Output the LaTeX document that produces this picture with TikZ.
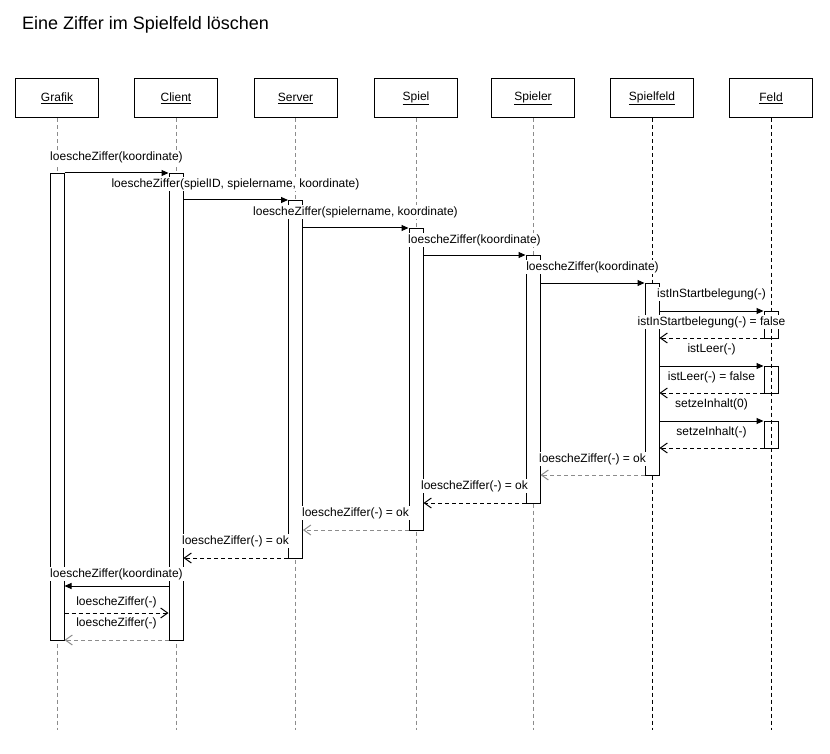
\documentclass[tikz,border=0pt]{standalone}
\usepackage{fontspec}
\setmainfont{Liberation Sans}
\usetikzlibrary{arrows.meta}
\definecolor{lgray}{RGB}{140,140,140}
\tikzset{
  head/.style={draw, line width=1pt, minimum width=83pt, minimum height=39pt, inner sep=0pt, font=\fontsize{12}{14}\selectfont},
  life/.style={dash pattern=on 4pt off 3pt, line width=1pt, draw=lgray},
  lifeb/.style={dash pattern=on 4pt off 3pt, line width=1pt, draw=black},
  act/.style={draw, fill=white, line width=1pt, minimum width=14pt, inner sep=0pt, anchor=north},
  call/.style={line width=1pt, -{Triangle[length=7pt,width=6pt]}},
  ret/.style={line width=1pt, dash pattern=on 4pt off 3pt, -{Straight Barb[length=7pt,width=10pt]}},
  lbl/.style={fill=white, inner sep=1pt, font=\fontsize{12}{14}\selectfont}
}
\begin{document}
\begin{tikzpicture}[x=1pt,y=-1pt]
\useasboundingbox (0,0) rectangle (830,754);
\node[anchor=west, inner sep=0pt, font=\fontsize{18}{22}\selectfont] (title) at (22,25) {Eine Ziffer im Spielfeld löschen};

% headers
\node[head] (hG) at (57,98.5) {\underline{Grafik}};
\node[head] (hC) at (176,98.5) {\underline{Client}};
\node[head] (hS) at (295.5,98.5) {\underline{Server}};
\node[head] (hP) at (416,98.5) {\underline{Spiel}};
\node[head] (hR) at (533,98.5) {\underline{Spieler}};
\node[head] (hF) at (652,98.5) {\underline{Spielfeld}};
\node[head] (hD) at (771,98.5) {\underline{Feld}};

% lifeline ends
\coordinate (eG) at (57,730);
\coordinate (eC) at (176,730);
\coordinate (eS) at (295.5,730);
\coordinate (eP) at (416,730);
\coordinate (eR) at (533,730);
\coordinate (eF) at (652,730);
\coordinate (eD) at (771,730);
\draw[life] (hG.south) -- (eG);
\draw[life] (hC.south) -- (eC);
\draw[life] (hS.south) -- (eS);
\draw[life] (hP.south) -- (eP);
\draw[life] (hR.south) -- (eR);
\draw[lifeb] (hF.south) -- (eF);
\draw[lifeb] (hD.south) -- (eD);

% activations
\node[act, minimum height=467pt] (aG) at (57,173) {};
\node[act, minimum height=467pt] (aC) at (176,173) {};
\node[act, minimum height=358pt] (aS) at (295.5,200) {};
\node[act, minimum height=302pt] (aP) at (416,228) {};
\node[act, minimum height=248pt] (aR) at (533,255) {};
\node[act, minimum height=192pt] (aF) at (652,283) {};
\node[act, fill=none, minimum height=27pt] (aD1) at (771,311) {};
\node[act, fill=none, minimum height=27pt] (aD2) at (771,366) {};
\node[act, fill=none, minimum height=27pt] (aD3) at (771,421) {};

% y levels
\foreach \n/\y in {1/173,2/200,3/228,4/255,5/283,6/311,7/338,8/366,9/393,10/421,11/448,12/475,13/503,14/530,15/558,16/586,17/613,18/640}
  \coordinate (y\n) at (0,\y);

% messages
\draw[call] (aG.east |- y1) -- (aC.west |- y1);
\draw[call] (aC.east |- y2) -- (aS.west |- y2);
\draw[call] (aS.east |- y3) -- (aP.west |- y3);
\draw[call] (aP.east |- y4) -- (aR.west |- y4);
\draw[call] (aR.east |- y5) -- (aF.west |- y5);
\draw[call] (aF.east |- y6) -- (aD1.west |- y6);
\draw[ret] (aD1.west |- y7) -- (aF.east |- y7);
\draw[call] (aF.east |- y8) -- (aD2.west |- y8);
\draw[ret] (aD2.west |- y9) -- (aF.east |- y9);
\draw[call] (aF.east |- y10) -- (aD3.west |- y10);
\draw[ret] (aD3.west |- y11) -- (aF.east |- y11);
\draw[ret, draw=lgray] (aF.west |- y12) -- (aR.east |- y12);
\draw[ret] (aR.west |- y13) -- (aP.east |- y13);
\draw[ret, draw=lgray] (aP.west |- y14) -- (aS.east |- y14);
\draw[ret] (aS.west |- y15) -- (aC.east |- y15);
\draw[call] (aC.west |- y16) -- (aG.east |- y16);
\draw[ret] (aG.east |- y17) -- (aC.west |- y17);
\draw[ret, draw=lgray] (aC.west |- y18) -- (aG.east |- y18);

% labels
\node[lbl] (l1) at (116.5,157) {loescheZiffer(koordinate)};
\node[lbl] (l2) at (235.5,184) {loescheZiffer(spielID, spielername, koordinate)};
\node[lbl] (l3) at (355.5,212) {loescheZiffer(spielername, koordinate)};
\node[lbl] (l4) at (474.5,240) {loescheZiffer(koordinate)};
\node[lbl] (l5) at (592.5,267) {loescheZiffer(koordinate)};
\node[lbl] (l6) at (711.5,294) {istInStartbelegung(-)};
\node[lbl] (l7) at (711.5,322) {istInStartbelegung(-) = false};
\node[lbl] (l8) at (711.5,349) {istLeer(-)};
\node[lbl] (l9) at (711.5,377) {istLeer(-) = false};
\node[lbl] (l10) at (711.5,404) {setzeInhalt(0)};
\node[lbl] (l11) at (711.5,432) {setzeInhalt(-)};
\node[lbl] (l12) at (592.5,459) {loescheZiffer(-) = ok};
\node[lbl] (l13) at (474.5,486) {loescheZiffer(-) = ok};
\node[lbl] (l14) at (355.5,513) {loescheZiffer(-) = ok};
\node[lbl] (l15) at (235.5,541) {loescheZiffer(-) = ok};
\node[lbl] (l16) at (116.5,574) {loescheZiffer(koordinate)};
\node[lbl] (l17) at (116.5,602) {loescheZiffer(-)};
\node[lbl] (l18) at (116.5,623) {loescheZiffer(-)};
\end{tikzpicture}
\end{document}
